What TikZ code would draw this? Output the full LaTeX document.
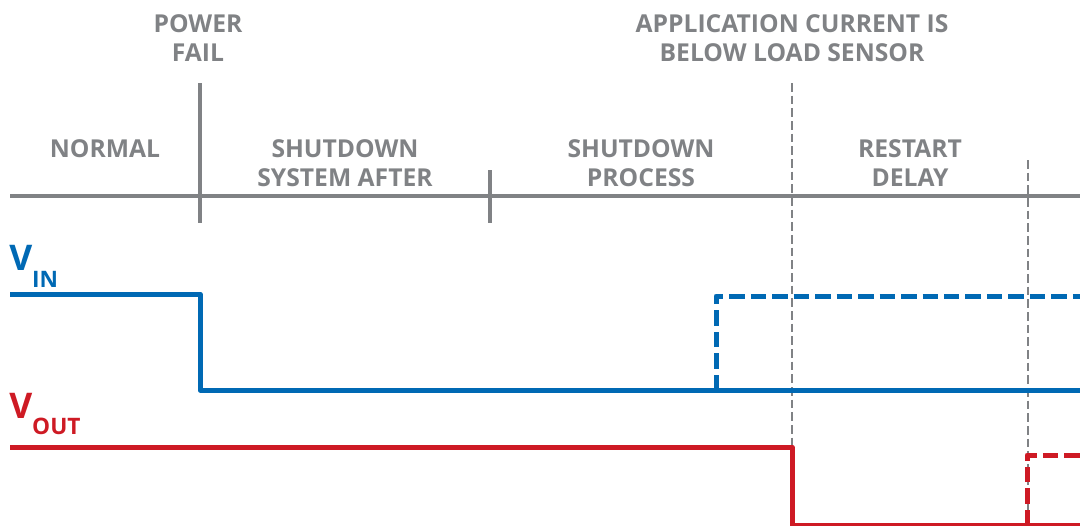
\documentclass[tikz,border=0pt]{standalone}
\usepackage{fontspec}
\setmainfont{Open Sans}
\usepackage{tikz}

\definecolor{phasegray}{RGB}{128,130,133}
\definecolor{vinblue}{RGB}{0,105,180}
\definecolor{voutred}{RGB}{206,26,36}

\tikzset{
  phase/.style={text=phasegray, font=\bfseries\fontsize{18.5}{21.75}\selectfont, align=center, inner sep=0.75pt},
  axisline/.style={draw=phasegray, line width=2.3pt},
  eventline/.style={draw=phasegray, line width=2.2pt, dash pattern=on 6.5pt off 3pt},
  vinwave/.style={draw=vinblue, line width=3.75pt, line join=round},
  voutwave/.style={draw=voutred, line width=3.75pt, line join=round},
  restart/.style={dash pattern=on 11.6pt off 4.5pt},
  siglabel/.style={anchor=base west, inner sep=0pt, font=\bfseries}
}

\begin{document}
\begin{tikzpicture}[x=0.75pt,y=0.75pt,yscale=-1,xscale=1]
\useasboundingbox (0,0) rectangle (1080,525);
\clip (0,0) rectangle (1080,525);

%Coordinates of the time axis
\coordinate (axL) at (10,196);
\coordinate (axR) at (1080,196);
\coordinate (pfT) at (200,83);
\coordinate (pfB) at (200,223);
\coordinate (tkT) at (490,170);
\coordinate (tkB) at (490,223);
\coordinate (acT) at (792,83);
\coordinate (acB) at (792,526);
\coordinate (rdT) at (1028,160);
\coordinate (rdB) at (1028,526);

%Straight Lines: time axis and events
\draw [axisline] (axL) -- (axR);
\draw [axisline] (pfT) -- (pfB);
\draw [axisline] (tkT) -- (tkB);
\draw [eventline] (acT) -- (acB);
\draw [eventline] (rdT) -- (rdB);

% Text Node
\node (pwrfail) [phase] at (198,38) {POWER\\FAIL};
% Text Node
\node (appcur) [phase] at (792,38) {APPLICATION CURRENT IS\\BELOW LOAD SENSOR};
% Text Node
\node (normal) [phase] at (105,149) {NORMAL};
% Text Node
\node (sdsys) [phase] at (345,163.5) {SHUTDOWN\\SYSTEM AFTER};
% Text Node
\node (sdproc) [phase] at (641,163.5) {SHUTDOWN\\PROCESS};
% Text Node
\node (rsdelay) [phase] at (910,163.5) {RESTART\\DELAY};

%Coordinates of the waveforms
\coordinate (vinA) at (10,294);
\coordinate (vinB) at (200,294);
\coordinate (vinC) at (200,390);
\coordinate (vinD) at (1082,390);
\coordinate (vinE) at (716,390);
\coordinate (vinF) at (716,296);
\coordinate (vinG) at (1082,296);
\coordinate (voA) at (10,447);
\coordinate (voB) at (792,447);
\coordinate (voC) at (792,525);
\coordinate (voD) at (1082,525);
\coordinate (voE) at (1027,525);
\coordinate (voF) at (1027,455);
\coordinate (voG) at (1082,455);

%Waveform V_IN
\draw [vinwave] (vinA) -- (vinB) -- (vinC) -- (vinD);
\draw [vinwave, restart] (vinE) -- (vinF) -- (vinG);
%Waveform V_OUT
\draw [voutwave] (voA) -- (voB) -- (voC) -- (voD);
\draw [voutwave, restart] (voE) -- (voF) -- (voG);

% Text Node
\node (vinlbl) [siglabel, text=vinblue] at (9,270) {\fontsize{26.5}{26}\selectfont V\raisebox{-13pt}{\fontsize{17}{17}\selectfont IN}};
% Text Node
\node (voutlbl) [siglabel, text=voutred] at (9,418) {\fontsize{26.5}{26}\selectfont V\raisebox{-12.5pt}{\fontsize{17}{17}\selectfont OUT}};

\end{tikzpicture}
\end{document}
